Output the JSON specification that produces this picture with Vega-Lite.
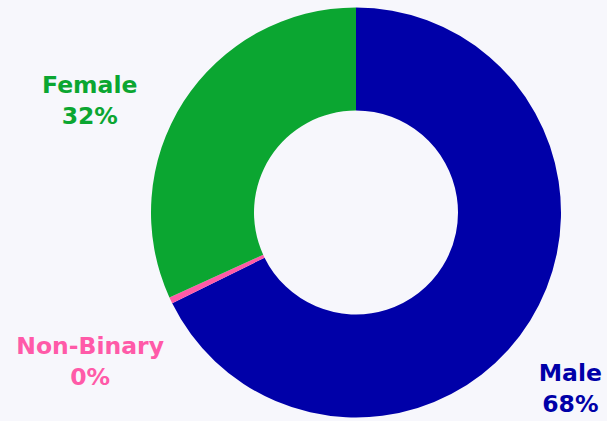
{
  "$schema": "https://vega.github.io/schema/vega-lite/v6.json",
  "autosize": {"type": "none"},
  "width": 502,
  "height": 417,
  "padding": {"left": 105, "top": 4, "right": 0, "bottom": 0},
  "background": "#F7F7FC",
  "config": {"view": {"stroke": null}},
  "data": {
    "values": [
      {"gender": "Male", "share": 67.7, "rank": 1, "label": "Male\n68%"},
      {"gender": "Non-Binary", "share": 0.5, "rank": 2, "label": "Non-Binary\n0%"},
      {"gender": "Female", "share": 31.8, "rank": 3, "label": "Female\n32%"}
    ]
  },
  "encoding": {
    "theta": {"field": "share", "type": "quantitative", "stack": true},
    "order": {"field": "rank", "type": "quantitative"},
    "color": {
      "field": "gender",
      "type": "nominal",
      "scale": {"domain": ["Male", "Non-Binary", "Female"], "range": ["#0000A8", "#FF5AA8", "#0BA631"]},
      "legend": null
    }
  },
  "layer": [
    {"mark": {"type": "arc", "outerRadius": 205, "innerRadius": 102}},
    {
      "mark": {"type": "text", "radius": 250, "dx": 2, "dy": 30, "lineBreak": "\n", "font": "DejaVu Sans", "fontWeight": "bold", "fontSize": 23.5, "lineHeight": 31, "align": "center", "baseline": "middle"},
      "encoding": {"text": {"condition": {"test": "datum.gender == 'Male'", "field": "label"}, "value": ""}}
    },
    {
      "mark": {"type": "text", "radius": 250, "dx": -56, "dy": 9, "lineBreak": "\n", "font": "DejaVu Sans", "fontWeight": "bold", "fontSize": 23.5, "lineHeight": 31, "align": "center", "baseline": "middle"},
      "encoding": {"text": {"condition": {"test": "datum.gender == 'Female'", "field": "label"}, "value": ""}}
    },
    {
      "mark": {"type": "text", "radius": 250, "dx": -40, "dy": 27, "lineBreak": "\n", "font": "DejaVu Sans", "fontWeight": "bold", "fontSize": 23.5, "lineHeight": 31, "align": "center", "baseline": "middle"},
      "encoding": {"text": {"condition": {"test": "datum.gender == 'Non-Binary'", "field": "label"}, "value": ""}}
    }
  ]
}
